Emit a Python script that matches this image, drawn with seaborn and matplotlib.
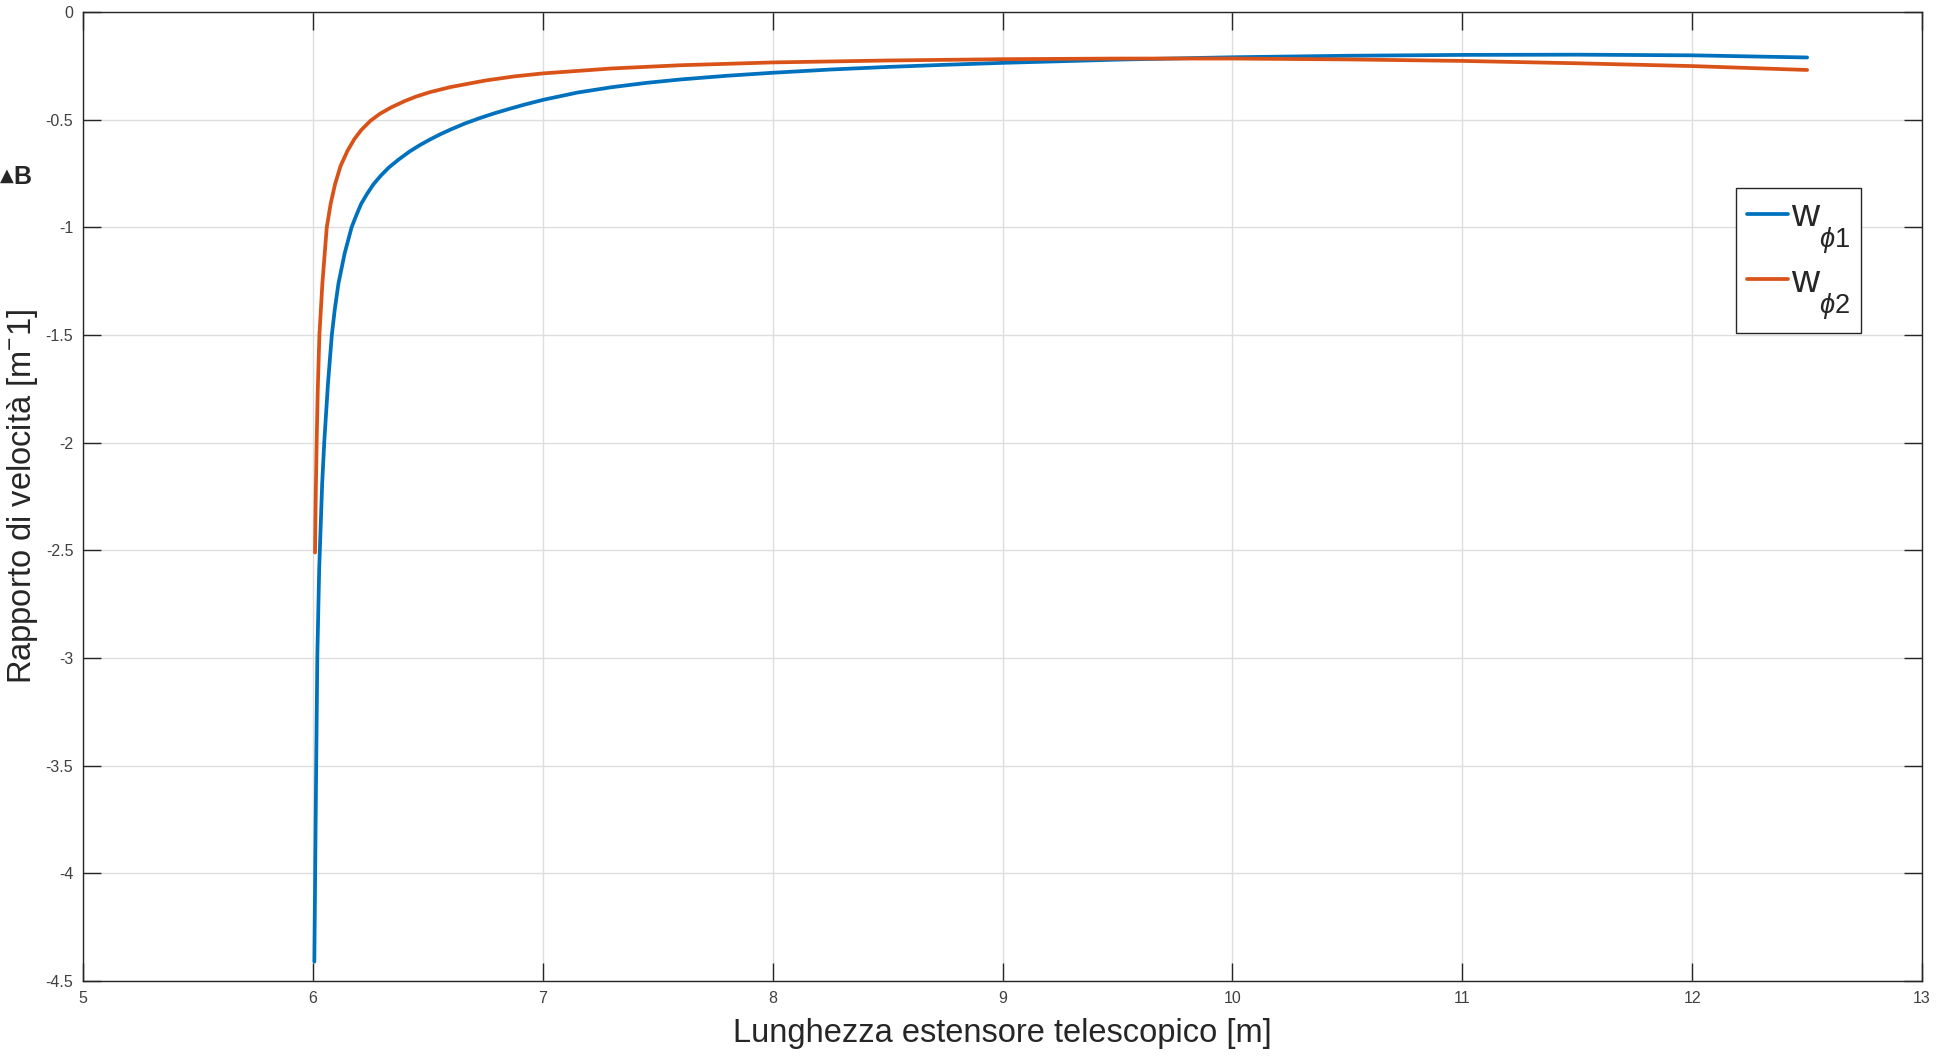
import numpy as np
import pandas as pd
import matplotlib
matplotlib.use("Agg")
import matplotlib.pyplot as plt
import matplotlib._mathtext as mathtext_internal
import seaborn as sns

# values
blue_x = [6.006, 6.010, 6.014, 6.019, 6.027, 6.040, 6.049, 6.065, 6.082, 6.095,
          6.111, 6.138, 6.168, 6.190, 6.210, 6.235, 6.263, 6.295, 6.330, 6.375,
          6.420, 6.465, 6.509, 6.555, 6.600, 6.660, 6.727, 6.790, 6.850, 6.920,
          7.000, 7.150, 7.300, 7.450, 7.600, 7.800, 8.000, 8.250, 8.500, 8.750,
          9.000, 9.500, 10.000, 10.500, 11.000, 11.500, 12.000, 12.500]
blue_y = [-4.41, -3.95, -3.50, -2.99, -2.59, -2.19, -2.00, -1.73, -1.50, -1.38,
          -1.26, -1.12, -1.00, -0.94, -0.89, -0.845, -0.80, -0.76, -0.722, -0.683,
          -0.648, -0.618, -0.592, -0.567, -0.545, -0.518, -0.492, -0.470, -0.451, -0.430,
          -0.408, -0.374, -0.349, -0.329, -0.313, -0.296, -0.282, -0.267, -0.255, -0.245,
          -0.236, -0.221, -0.210, -0.203, -0.199, -0.198, -0.201, -0.211]

orange_x = [6.009, 6.012, 6.016, 6.021, 6.028, 6.041, 6.060, 6.077, 6.096, 6.120,
            6.150, 6.180, 6.210, 6.250, 6.292, 6.340, 6.400, 6.450, 6.509, 6.600,
            6.750, 6.875, 7.000, 7.300, 7.600, 8.000, 8.500, 9.000, 9.500, 10.000,
            10.500, 11.000, 11.500, 12.000, 12.500]
orange_y = [-2.51, -2.25, -2.00, -1.75, -1.50, -1.26, -1.00, -0.89, -0.80, -0.715,
            -0.645, -0.590, -0.548, -0.505, -0.472, -0.443, -0.413, -0.392, -0.372, -0.348,
            -0.318, -0.299, -0.285, -0.262, -0.247, -0.234, -0.225, -0.219, -0.216, -0.216,
            -0.220, -0.227, -0.238, -0.251, -0.269]

x_ticks = [5, 6, 7, 8, 9, 10, 11, 12, 13]
y_ticks = [0, -0.5, -1, -1.5, -2, -2.5, -3, -3.5, -4, -4.5]
y_tick_labels = ["0", "-0.5", "-1", "-1.5", "-2", "-2.5", "-3", "-3.5", "-4", "-4.5"]

sns.set_style("ticks")
plt.rcParams["font.family"] = ["Liberation Sans", "DejaVu Sans"]
plt.rcParams["mathtext.fontset"] = "custom"
plt.rcParams["mathtext.rm"] = "Liberation Sans"
plt.rcParams["mathtext.it"] = "Liberation Sans:italic"
plt.rcParams["axes.unicode_minus"] = False
# MATLAB drops its subscripts lower than mathtext does
mathtext_internal.FontConstantsBase.sub1 = 1.0

df1 = pd.DataFrame({"x": blue_x, "y": blue_y})
df2 = pd.DataFrame({"x": orange_x, "y": orange_y})

fig = plt.figure(figsize=(19.46, 10.56), dpi=100)
ax = fig.add_axes([0.0427, 0.0710, 0.9450, 0.9176])

sns.lineplot(data=df1, x="x", y="y", ax=ax, color="#0072BD", linewidth=2.7,
             estimator=None, sort=False, label=r"w$_{\phi\mathrm{1}}$")
sns.lineplot(data=df2, x="x", y="y", ax=ax, color="#D95319", linewidth=2.7,
             estimator=None, sort=False, label=r"w$_{\phi\mathrm{2}}$")

ax.set_xlim(5, 13)
ax.set_ylim(-4.5, 0)
ax.set_xticks(x_ticks)
ax.set_yticks(y_ticks)
ax.set_yticklabels(y_tick_labels)
ax.grid(True, color="#dedede", linewidth=1.0)
ax.tick_params(direction="in", length=13, width=1, top=True, right=True,
               labelsize=11.5, labelcolor="#404040", color="#262626", pad=7)
for s in ax.spines.values():
    s.set_color("#262626")
    s.set_linewidth(1.0)

ax.set_xlabel("Lunghezza estensore telescopico [m]", fontsize=23.5, color="#262626", labelpad=9)
ax.set_ylabel(r"Rapporto di velocità [m$^{-}$1]", fontsize=23.5, color="#262626", labelpad=4)

leg = ax.legend(loc="upper right", bbox_to_anchor=(0.967, 0.818), fontsize=28,
                frameon=True, fancybox=False, framealpha=1, edgecolor="#262626",
                handlelength=1.05, handletextpad=0.08, borderpad=0.28, labelspacing=0.22,
                borderaxespad=0)
leg.get_frame().set_linewidth(1.0)

fig.text(0.0, 1 - 176 / 1056, "▲", fontsize=13, va="center", ha="left",
         family=["DejaVu Sans"])
fig.text(0.0068, 1 - 177 / 1056, "B", fontsize=18, fontweight="bold", va="center", ha="left")

fig.savefig("out.png", dpi=100)
